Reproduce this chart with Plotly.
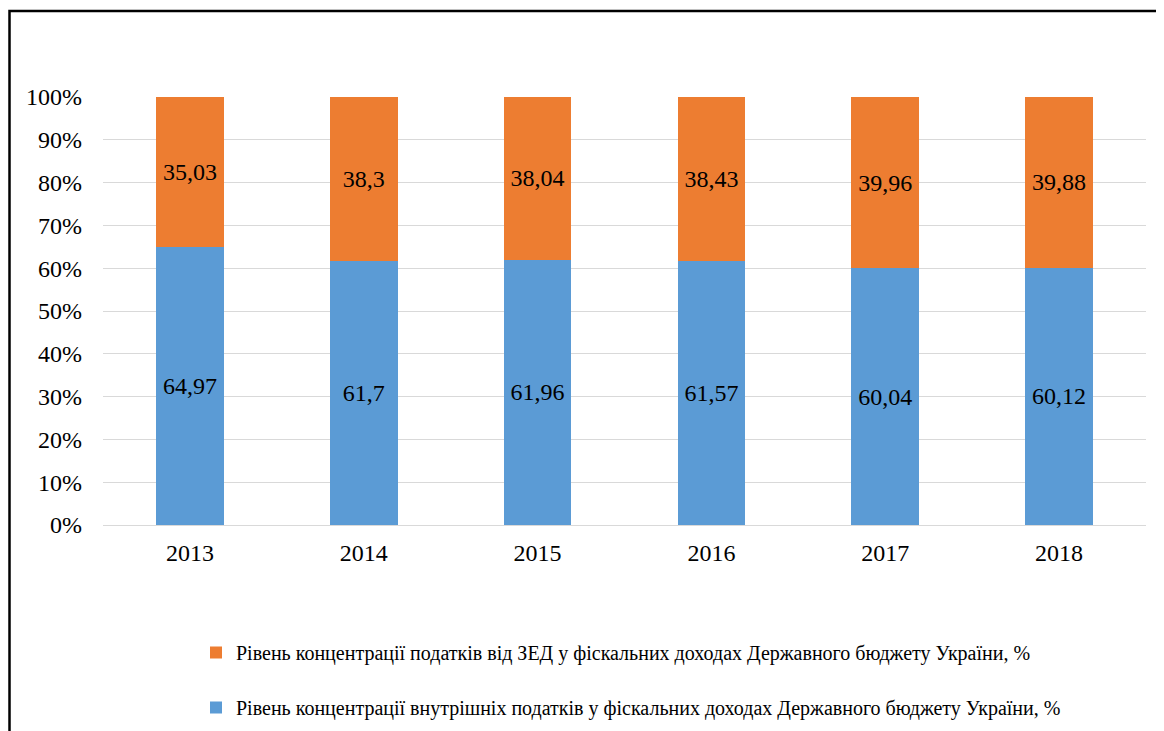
import plotly.graph_objects as go

years = ["2013", "2014", "2015", "2016", "2017", "2018"]
internal = [64.97, 61.7, 61.96, 61.57, 60.04, 60.12]
foreign = [35.03, 38.3, 38.04, 38.43, 39.96, 39.88]
name_internal = "Рівень концентрації внутрішніх податків у фіскальних доходах Державного бюджету України, %"
name_foreign = "Рівень концентрації податків від ЗЕД у фіскальних доходах Державного бюджету України, %"
y_ticks = [0, 10, 20, 30, 40, 50, 60, 70, 80, 90, 100]
y_tick_labels = [f"{v}%" for v in y_ticks]

def fmt(v):
    return str(v).replace(".", ",")

FONT = "Liberation Serif"

fig = go.Figure()
fig.add_trace(go.Bar(
    x=years, y=internal, name=name_internal,
    marker=dict(color="#5B9BD5", line=dict(width=0)),
    text=[fmt(v) for v in internal], textposition="inside",
    insidetextanchor="middle", textangle=0,
    textfont=dict(family=FONT, size=24, color="black"),
    legendgroup="a", legendrank=2, hoverinfo="skip",
))
fig.add_trace(go.Bar(
    x=years, y=foreign, name=name_foreign,
    marker=dict(color="#ED7D31", line=dict(width=0)),
    text=[fmt(v) for v in foreign], textposition="inside",
    insidetextanchor="middle", textangle=0,
    textfont=dict(family=FONT, size=24, color="black"),
    legendgroup="b", legendrank=1, hoverinfo="skip",
))

# page body has an 8px offset; work in figure pixels (screen - 8)
OFF = 8
W, H = 1156, 723
L = 103 - OFF
T = 97 - OFF
R = W - (1146 - OFF)
B = H - (525 - OFF)
pw = W - L - R
ph = H - T - B

def px_x(p):
    return (p - OFF - L) / pw

def px_y(p):
    return (H - B - (p - OFF)) / ph

fig.update_layout(
    width=W, height=H,
    barmode="stack", bargap=0.61,
    paper_bgcolor="white", plot_bgcolor="white",
    margin=dict(l=L, r=R, t=T, b=B, autoexpand=False),
    font=dict(family=FONT, color="black"),
    showlegend=True,
    legend=dict(
        orientation="v", traceorder="grouped",
        x=px_x(196), xanchor="left", y=px_y(633), yanchor="top",
        font=dict(family=FONT, size=20, color="black"),
        tracegroupgap=26, itemwidth=30,
        bgcolor="rgba(0,0,0,0)",
    ),
    xaxis=dict(
        showgrid=False, showline=False, ticks="",
        tickfont=dict(family=FONT, size=24, color="black"),
        ticklabelstandoff=11,
    ),
    yaxis=dict(
        range=[0, 100], tickvals=y_ticks, ticktext=y_tick_labels,
        showgrid=True, gridcolor="#D9D9D9", gridwidth=1,
        zeroline=True, zerolinecolor="#D9D9D9", zerolinewidth=1,
        showline=False, ticks="",
        tickfont=dict(family=FONT, size=24, color="black"),
        ticklabelstandoff=20,
    ),
    shapes=[dict(
        type="path", xref="paper", yref="paper",
        path=f"M {px_x(9.5)} {px_y(800)} L {px_x(9.5)} {px_y(11)} L {px_x(1200)} {px_y(11)}",
        line=dict(color="black", width=2.5),
    )],
)

fig.write_html("out.html")
